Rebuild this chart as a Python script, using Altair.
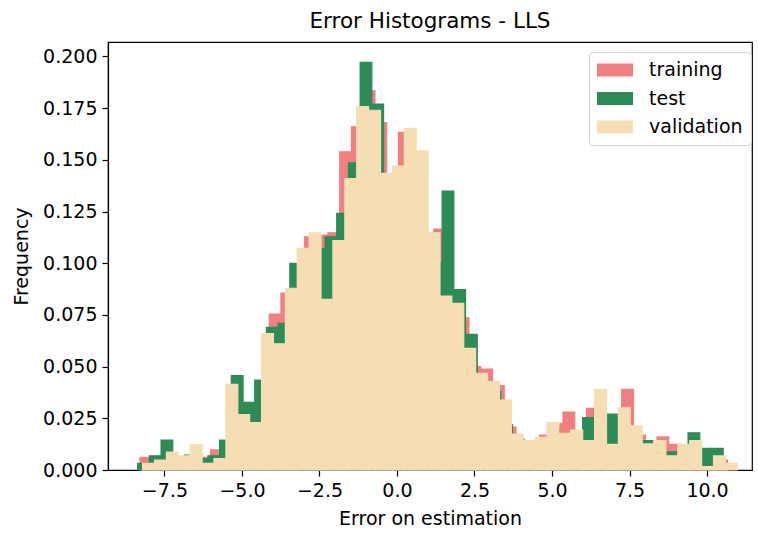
import altair as alt
import pandas as pd

series_names = ["training", "test", "validation"]
series_colors = ["#F08080", "#2E8B57", "#F5DEB3"]

# bin layout (first left edge, bin width)
train_start, train_width = -8.290, 0.3790
test_start, test_width = -8.3645, 0.3777
val_start, val_width = -8.2032, 0.3836

train_freq = [0.0061, 0.006, 0.008, 0.006, 0.007, 0.0061, 0.0097, 0.012, 0.030, 0.028,
              0.040, 0.0754, 0.0855, 0.095, 0.1128, 0.1136, 0.1147, 0.1539, 0.166, 0.1834,
              0.168, 0.138, 0.1633, 0.150, 0.110, 0.1165, 0.085, 0.0736, 0.050, 0.0488,
              0.0408, 0.0207, 0.013, 0.013, 0.0169, 0.0226, 0.028, 0.017, 0.0298, 0.025,
              0.022, 0.039, 0.0169, 0.012, 0.016, 0.0124, 0.011, 0.010, 0.008, 0.0048]

test_freq = [0.0032, 0.0069, 0.0145, 0.006, 0.0072, 0.0055, 0.0069, 0.0145, 0.0456, 0.0327,
             0.0435, 0.069, 0.0709, 0.0999, 0.100, 0.107, 0.1128, 0.1241, 0.1486, 0.1971,
             0.177, 0.140, 0.140, 0.150, 0.110, 0.1005, 0.1349, 0.0873, 0.0656, 0.040,
             0.038, 0.0218, 0.015, 0.012, 0.013, 0.020, 0.015, 0.017, 0.0253, 0.030,
             0.027, 0.025, 0.018, 0.0142, 0.011, 0.0088, 0.006, 0.018, 0.0105, 0.0105]

val_freq = [0.0032, 0.0048, 0.0086, 0.0068, 0.0122, 0.0032, 0.0055, 0.0414, 0.0268, 0.0229,
            0.066, 0.061, 0.0879, 0.1072, 0.1147, 0.0825, 0.111, 0.1409, 0.1757, 0.174,
            0.1435, 0.147, 0.1652, 0.1544, 0.1147, 0.0841, 0.0806, 0.0588, 0.0468, 0.0427,
            0.0338, 0.0174, 0.0142, 0.0158, 0.0229, 0.0177, 0.0193, 0.0142, 0.039, 0.0124,
            0.0301, 0.0213, 0.0126, 0.0142, 0.0069, 0.0124, 0.0142, 0.0016, 0.0068, 0.0032]

x_ticks = [-7.5, -5.0, -2.5, 0.0, 2.5, 5.0, 7.5, 10.0]
y_ticks = [0.0, 0.025, 0.05, 0.075, 0.1, 0.125, 0.15, 0.175, 0.2]

rows = []
for name, start, width, freqs in [
    ("training", train_start, train_width, train_freq),
    ("test", test_start, test_width, test_freq),
    ("validation", val_start, val_width, val_freq),
]:
    for i, f in enumerate(freqs):
        rows.append({"series": name, "order": series_names.index(name),
                     "x0": start + i * width, "x1": start + (i + 1) * width,
                     "freq": f, "base": 0.0})
df = pd.DataFrame(rows)

FONT = "DejaVu Sans"
F = 19

# legend patch: drawn wider than its layout box (layout = sqrt(size) = 20 px)
legend_shape = "M-1,-0.66L2.6,-0.66L2.6,0.66L-1,0.66Z"
color_scale = alt.Scale(domain=series_names, range=series_colors)

chart = alt.Chart(df).mark_rect(strokeWidth=1.2).encode(
    x=alt.X("x0:Q", scale=alt.Scale(domain=[-9.32, 11.45], nice=False, zero=False),
            axis=alt.Axis(values=x_ticks, title="Error on estimation",
                          labelExpr="replace(format(datum.value, '.1f'), '-', '\u2212')")),
    x2="x1:Q",
    y=alt.Y("freq:Q", scale=alt.Scale(domain=[0, 0.207], nice=False, zero=False),
            axis=alt.Axis(values=y_ticks, format=".3f", title="Frequency")),
    y2="base:Q",
    color=alt.Color("series:N", scale=color_scale, sort=series_names,
                    legend=alt.Legend(title=None, orient="none", legendX=481, legendY=10,
                                      symbolType=legend_shape, symbolSize=400,
                                      symbolStrokeWidth=0, labelFontSize=F, labelFont=FONT,
                                      labelColor="black", labelOffset=32, padding=8,
                                      rowPadding=8.5, strokeColor="#d0d0d0",
                                      fillColor="white", cornerRadius=4)),
    stroke=alt.Stroke("series:N", scale=color_scale, legend=None),
    order=alt.Order("order:Q"),
).properties(
    width=644, height=428,
    background="white",
    title=alt.TitleParams("Error Histograms - LLS", font=FONT, fontSize=21.5,
                          fontWeight="normal", color="black", offset=10),
    padding={"left": 108, "top": 42, "right": 6, "bottom": 65},
    autosize=alt.AutoSizeParams(type="none"),
).configure_axis(
    labelFont=FONT, labelFontSize=F, labelColor="black",
    titleFont=FONT, titleFontSize=F, titleColor="black", titleFontWeight="normal",
    domainColor="black", domainWidth=1.2, tickColor="black", tickWidth=1.2,
    tickSize=6, labelPadding=5, grid=False,
).configure_axisX(titlePadding=9).configure_axisY(titlePadding=11).configure_view(
    stroke="black", strokeWidth=1.2
)

chart.save("out.html", embed_options={"renderer": "svg", "actions": False})
